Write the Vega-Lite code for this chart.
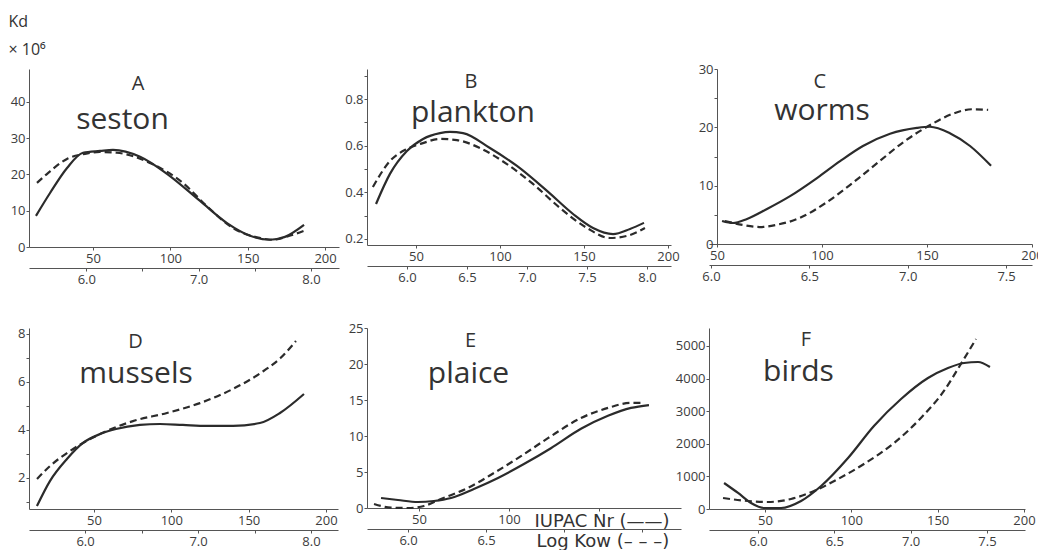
{
"$schema":"https://vega.github.io/schema/vega-lite/v6.json",
"background":"white",
"padding":{"left":8,"top":13,"right":4,"bottom":0},
"config":{
 "view":{"stroke":null},
 "axis":{"grid":false,"domainColor":"#555","tickColor":"#555","tickSize":3,"labelColor":"#3c3c3c","labelFont":"Open Sans","labelFontSize":13,"labelFlush":false,"labelOverlap":false,"labelBound":false,"labelPadding":2},
 "axisY":{"labelPadding":1}
},
"data":{"values":[
{"panel":"A","curve":"IUPAC","x":13.1,"y":8.6},{"panel":"A","curve":"IUPAC","x":22.2,"y":14.9},{"panel":"A","curve":"IUPAC","x":33.2,"y":21.8},{"panel":"A","curve":"IUPAC","x":43.5,"y":26.0},{"panel":"A","curve":"IUPAC","x":54.5,"y":26.5},{"panel":"A","curve":"IUPAC","x":62.9,"y":26.8},{"panel":"A","curve":"IUPAC","x":80.4,"y":24.9},{"panel":"A","curve":"IUPAC","x":97.8,"y":20.2},{"panel":"A","curve":"IUPAC","x":119.2,"y":12.7},{"panel":"A","curve":"IUPAC","x":136.6,"y":6.6},{"panel":"A","curve":"IUPAC","x":151.5,"y":3.1},{"panel":"A","curve":"IUPAC","x":164.4,"y":2.0},{"panel":"A","curve":"IUPAC","x":174.1,"y":2.8},{"panel":"A","curve":"IUPAC","x":186.4,"y":6.1},
{"panel":"A","curve":"LogKow","x":5.561,"y":17.7},{"panel":"A","curve":"LogKow","x":5.659,"y":20.4},{"panel":"A","curve":"LogKow","x":5.828,"y":24.3},{"panel":"A","curve":"LogKow","x":5.988,"y":25.7},{"panel":"A","curve":"LogKow","x":6.121,"y":26.2},{"panel":"A","curve":"LogKow","x":6.272,"y":26.0},{"panel":"A","curve":"LogKow","x":6.566,"y":23.2},{"panel":"A","curve":"LogKow","x":6.859,"y":17.7},{"panel":"A","curve":"LogKow","x":7.072,"y":11.3},{"panel":"A","curve":"LogKow","x":7.303,"y":5.3},{"panel":"A","curve":"LogKow","x":7.543,"y":2.5},{"panel":"A","curve":"LogKow","x":7.659,"y":2.0},{"panel":"A","curve":"LogKow","x":7.81,"y":3.1},{"panel":"A","curve":"LogKow","x":7.934,"y":4.4},
{"panel":"B","curve":"IUPAC","x":26.2,"y":0.350},{"panel":"B","curve":"IUPAC","x":34.5,"y":0.479},{"panel":"B","curve":"IUPAC","x":44.6,"y":0.577},{"panel":"B","curve":"IUPAC","x":54.2,"y":0.629},{"panel":"B","curve":"IUPAC","x":64.3,"y":0.654},{"panel":"B","curve":"IUPAC","x":70.2,"y":0.659},{"panel":"B","curve":"IUPAC","x":78.0,"y":0.654},{"panel":"B","curve":"IUPAC","x":94.0,"y":0.590},{"panel":"B","curve":"IUPAC","x":110.1,"y":0.513},{"panel":"B","curve":"IUPAC","x":128.0,"y":0.406},{"panel":"B","curve":"IUPAC","x":143.5,"y":0.307},{"panel":"B","curve":"IUPAC","x":155.4,"y":0.247},{"panel":"B","curve":"IUPAC","x":167.3,"y":0.221},{"panel":"B","curve":"IUPAC","x":177.4,"y":0.243},{"panel":"B","curve":"IUPAC","x":185.7,"y":0.269},
{"panel":"B","curve":"LogKow","x":5.716,"y":0.423},{"panel":"B","curve":"LogKow","x":5.858,"y":0.534},{"panel":"B","curve":"LogKow","x":6.0,"y":0.586},{"panel":"B","curve":"LogKow","x":6.133,"y":0.611},{"panel":"B","curve":"LogKow","x":6.275,"y":0.629},{"panel":"B","curve":"LogKow","x":6.416,"y":0.624},{"panel":"B","curve":"LogKow","x":6.608,"y":0.590},{"panel":"B","curve":"LogKow","x":6.833,"y":0.521},{"panel":"B","curve":"LogKow","x":7.05,"y":0.436},{"panel":"B","curve":"LogKow","x":7.275,"y":0.333},{"panel":"B","curve":"LogKow","x":7.5,"y":0.247},{"panel":"B","curve":"LogKow","x":7.691,"y":0.204},{"panel":"B","curve":"LogKow","x":7.833,"y":0.213},{"panel":"B","curve":"LogKow","x":7.983,"y":0.247},
{"panel":"C","curve":"IUPAC","x":52.4,"y":3.94},{"panel":"C","curve":"IUPAC","x":57.6,"y":3.6},{"panel":"C","curve":"IUPAC","x":64.3,"y":4.3},{"panel":"C","curve":"IUPAC","x":73.8,"y":6.0},{"panel":"C","curve":"IUPAC","x":84.8,"y":8.2},{"panel":"C","curve":"IUPAC","x":97.6,"y":11.3},{"panel":"C","curve":"IUPAC","x":108.6,"y":14.2},{"panel":"C","curve":"IUPAC","x":119.5,"y":16.8},{"panel":"C","curve":"IUPAC","x":132.4,"y":18.9},{"panel":"C","curve":"IUPAC","x":145.2,"y":19.9},{"panel":"C","curve":"IUPAC","x":151.4,"y":20.1},{"panel":"C","curve":"IUPAC","x":160.9,"y":19.0},{"panel":"C","curve":"IUPAC","x":170.5,"y":16.8},{"panel":"C","curve":"IUPAC","x":180.5,"y":13.4},
{"panel":"C","curve":"LogKow","x":6.071,"y":3.94},{"panel":"C","curve":"LogKow","x":6.162,"y":3.26},{"panel":"C","curve":"LogKow","x":6.248,"y":2.91},{"panel":"C","curve":"LogKow","x":6.329,"y":3.26},{"panel":"C","curve":"LogKow","x":6.451,"y":4.46},{"panel":"C","curve":"LogKow","x":6.583,"y":7.03},{"panel":"C","curve":"LogKow","x":6.72,"y":10.46},{"panel":"C","curve":"LogKow","x":6.857,"y":14.2},{"panel":"C","curve":"LogKow","x":6.988,"y":17.7},{"panel":"C","curve":"LogKow","x":7.125,"y":20.6},{"panel":"C","curve":"LogKow","x":7.227,"y":22.3},{"panel":"C","curve":"LogKow","x":7.328,"y":23.1},{"panel":"C","curve":"LogKow","x":7.409,"y":23.0},
{"panel":"D","curve":"IUPAC","x":13.1,"y":0.83},{"panel":"D","curve":"IUPAC","x":21.5,"y":1.87},{"panel":"D","curve":"IUPAC","x":32.5,"y":2.79},{"panel":"D","curve":"IUPAC","x":42.9,"y":3.46},{"panel":"D","curve":"IUPAC","x":53.9,"y":3.83},{"panel":"D","curve":"IUPAC","x":64.2,"y":4.04},{"panel":"D","curve":"IUPAC","x":79.7,"y":4.21},{"panel":"D","curve":"IUPAC","x":92.7,"y":4.25},{"panel":"D","curve":"IUPAC","x":107.5,"y":4.21},{"panel":"D","curve":"IUPAC","x":123.1,"y":4.17},{"panel":"D","curve":"IUPAC","x":139.9,"y":4.17},{"panel":"D","curve":"IUPAC","x":157.3,"y":4.29},{"panel":"D","curve":"IUPAC","x":170.3,"y":4.71},{"panel":"D","curve":"IUPAC","x":185.8,"y":5.50},
{"panel":"D","curve":"LogKow","x":5.575,"y":1.96},{"panel":"D","curve":"LogKow","x":5.69,"y":2.50},{"panel":"D","curve":"LogKow","x":5.84,"y":3.04},{"panel":"D","curve":"LogKow","x":5.982,"y":3.46},{"panel":"D","curve":"LogKow","x":6.132,"y":3.83},{"panel":"D","curve":"LogKow","x":6.424,"y":4.37},{"panel":"D","curve":"LogKow","x":6.725,"y":4.71},{"panel":"D","curve":"LogKow","x":7.017,"y":5.12},{"panel":"D","curve":"LogKow","x":7.309,"y":5.71},{"panel":"D","curve":"LogKow","x":7.553,"y":6.37},{"panel":"D","curve":"LogKow","x":7.73,"y":7.0},{"panel":"D","curve":"LogKow","x":7.867,"y":7.71},
{"panel":"E","curve":"IUPAC","x":28.9,"y":1.39},{"panel":"E","curve":"IUPAC","x":38.3,"y":1.11},{"panel":"E","curve":"IUPAC","x":49.4,"y":0.83},{"panel":"E","curve":"IUPAC","x":58.3,"y":0.97},{"panel":"E","curve":"IUPAC","x":67.8,"y":1.39},{"panel":"E","curve":"IUPAC","x":80.5,"y":2.64},{"panel":"E","curve":"IUPAC","x":93.9,"y":4.17},{"panel":"E","curve":"IUPAC","x":108.3,"y":6.1},{"panel":"E","curve":"IUPAC","x":123.3,"y":8.3},{"panel":"E","curve":"IUPAC","x":140.0,"y":11.0},{"panel":"E","curve":"IUPAC","x":155.0,"y":12.8},{"panel":"E","curve":"IUPAC","x":167.8,"y":13.9},{"panel":"E","curve":"IUPAC","x":177.8,"y":14.3},
{"panel":"E","curve":"LogKow","x":5.782,"y":0.56},{"panel":"E","curve":"LogKow","x":5.891,"y":0.05},{"panel":"E","curve":"LogKow","x":6.0,"y":0.0},{"panel":"E","curve":"LogKow","x":6.102,"y":0.28},{"panel":"E","curve":"LogKow","x":6.211,"y":1.25},{"panel":"E","curve":"LogKow","x":6.384,"y":2.78},{"panel":"E","curve":"LogKow","x":6.551,"y":4.86},{"panel":"E","curve":"LogKow","x":6.724,"y":7.2},{"panel":"E","curve":"LogKow","x":6.897,"y":9.7},{"panel":"E","curve":"LogKow","x":7.109,"y":12.5},{"panel":"E","curve":"LogKow","x":7.282,"y":13.9},{"panel":"E","curve":"LogKow","x":7.429,"y":14.6},{"panel":"E","curve":"LogKow","x":7.506,"y":14.6},
{"panel":"F","curve":"IUPAC","x":26.3,"y":797},{"panel":"F","curve":"IUPAC","x":34.4,"y":491},{"panel":"F","curve":"IUPAC","x":41.9,"y":184},{"panel":"F","curve":"IUPAC","x":49.4,"y":31},{"panel":"F","curve":"IUPAC","x":59.3,"y":31},{"panel":"F","curve":"IUPAC","x":70.9,"y":245},{"panel":"F","curve":"IUPAC","x":82.5,"y":705},{"panel":"F","curve":"IUPAC","x":98.1,"y":1564},{"panel":"F","curve":"IUPAC","x":113.1,"y":2545},{"panel":"F","curve":"IUPAC","x":128.8,"y":3373},{"panel":"F","curve":"IUPAC","x":144.4,"y":4017},{"panel":"F","curve":"IUPAC","x":156.0,"y":4324},{"panel":"F","curve":"IUPAC","x":165.3,"y":4477},{"panel":"F","curve":"IUPAC","x":173.4,"y":4508},{"panel":"F","curve":"IUPAC","x":180.3,"y":4354},
{"panel":"F","curve":"LogKow","x":5.771,"y":337},{"panel":"F","curve":"LogKow","x":5.934,"y":245},{"panel":"F","curve":"LogKow","x":6.065,"y":215},{"panel":"F","curve":"LogKow","x":6.216,"y":307},{"panel":"F","curve":"LogKow","x":6.367,"y":552},{"panel":"F","curve":"LogKow","x":6.524,"y":920},{"panel":"F","curve":"LogKow","x":6.694,"y":1380},{"panel":"F","curve":"LogKow","x":6.891,"y":2024},{"panel":"F","curve":"LogKow","x":7.067,"y":2791},{"panel":"F","curve":"LogKow","x":7.218,"y":3619},{"panel":"F","curve":"LogKow","x":7.329,"y":4446},{"panel":"F","curve":"LogKow","x":7.428,"y":5213}
]},
"columns":3,
"align":"none",
"bounds":"flush",
"spacing":{"row":81,"column":28},
"concat":[
 {"width":310,"height":178,"resolve":{"scale":{"x":"independent"},"axis":{"x":"independent","y":"independent"}},"layer":[
  {"transform":[{"filter":"datum.panel==='A' && datum.curve==='IUPAC'"}],"mark":{"type":"line","interpolate":"monotone","color":"#2b2b2b","strokeWidth":2.2},
   "encoding":{"x":{"field":"x","type":"quantitative","title":null,"scale":{"domain":[8.6,209],"nice":false,"zero":false},"axis":{"orient":"bottom","values":[50,100,150,200],"format":"d"}},
    "y":{"field":"y","type":"quantitative","scale":{"domain":[0,49.1],"nice":false,"zero":false},"axis":{"values":[0,10,20,30,40],"format":"d","title":["Kd","× 10⁶"],"titleAngle":0,"titleAlign":"left","titleBaseline":"alphabetic","titleX":-21,"titleY":-43,"titleFont":"Open Sans","titleFontSize":16,"titleFontWeight":"normal","titleColor":"#333","titleLineHeight":28}}}},
  {"transform":[{"filter":"datum.panel==='A' && datum.curve==='LogKow'"}],"mark":{"type":"line","interpolate":"monotone","color":"#2b2b2b","strokeWidth":2.2,"strokeDash":[7,4]},
   "encoding":{"x":{"field":"x","type":"quantitative","title":null,"scale":{"domain":[5.49,8.25],"nice":false,"zero":false},"axis":{"orient":"bottom","offset":21,"values":[6,6.5,7,7.5,8],"labelExpr":"abs(datum.value - round(datum.value)) < 0.01 ? format(datum.value, '.1f') : ''"}},
    "y":{"field":"y","type":"quantitative","scale":{"domain":[0,49.1],"nice":false,"zero":false},"axis":null}}},
  {"data":{"values":[{"t":"A"}]},"mark":{"type":"text","font":"Open Sans","fontSize":20,"color":"#333","align":"center","baseline":"alphabetic"},
   "encoding":{"x":{"datum":79.1,"type":"quantitative","scale":{"domain":[8.6,209],"nice":false,"zero":false},"axis":null},"y":{"datum":43.3,"type":"quantitative","scale":{"domain":[0,49.1],"nice":false,"zero":false},"axis":null},"text":{"field":"t"}}},
  {"data":{"values":[{"t":"seston"}]},"mark":{"type":"text","font":"Open Sans","fontSize":30,"color":"#333","align":"center","baseline":"alphabetic"},
   "encoding":{"x":{"datum":69.05,"type":"quantitative","scale":{"domain":[8.6,209],"nice":false,"zero":false},"axis":null},"y":{"datum":32.6,"type":"quantitative","scale":{"domain":[0,49.1],"nice":false,"zero":false},"axis":null},"text":{"field":"t"}}}
 ]},
 {"width":304,"height":176,"resolve":{"scale":{"x":"independent"},"axis":{"x":"independent","y":"independent"}},"layer":[
  {"transform":[{"filter":"datum.panel==='B' && datum.curve==='IUPAC'"}],"mark":{"type":"line","interpolate":"monotone","color":"#2b2b2b","strokeWidth":2.2},
   "encoding":{"x":{"field":"x","type":"quantitative","title":null,"scale":{"domain":[20.83,201.8],"nice":false,"zero":false},"axis":{"orient":"bottom","values":[50,100,150,200],"format":"d"}},
    "y":{"field":"y","type":"quantitative","title":null,"scale":{"domain":[0.174,0.929],"nice":false,"zero":false},"axis":{"values":[0.2,0.3,0.4,0.5,0.6,0.7,0.8,0.9],"labelExpr":"round(datum.value*10) % 2 == 0 ? format(datum.value, '.1f') : ''"}}}},
  {"transform":[{"filter":"datum.panel==='B' && datum.curve==='LogKow'"}],"mark":{"type":"line","interpolate":"monotone","color":"#2b2b2b","strokeWidth":2.2,"strokeDash":[7,4]},
   "encoding":{"x":{"field":"x","type":"quantitative","title":null,"scale":{"domain":[5.667,8.2],"nice":false,"zero":false},"axis":{"orient":"bottom","offset":21,"values":[6,6.5,7,7.5,8],"format":".1f"}},
    "y":{"field":"y","type":"quantitative","scale":{"domain":[0.174,0.929],"nice":false,"zero":false},"axis":null}}},
  {"data":{"values":[{"t":"B"}]},"mark":{"type":"text","font":"Open Sans","fontSize":20,"color":"#333","align":"center","baseline":"alphabetic"},
   "encoding":{"x":{"datum":82.7,"type":"quantitative","scale":{"domain":[20.83,201.8],"nice":false,"zero":false},"axis":null},"y":{"datum":0.848,"type":"quantitative","scale":{"domain":[0.174,0.929],"nice":false,"zero":false},"axis":null},"text":{"field":"t"}}},
  {"data":{"values":[{"t":"plankton"}]},"mark":{"type":"text","font":"Open Sans","fontSize":30,"color":"#333","align":"center","baseline":"alphabetic"},
   "encoding":{"x":{"datum":83.9,"type":"quantitative","scale":{"domain":[20.83,201.8],"nice":false,"zero":false},"axis":null},"y":{"datum":0.702,"type":"quantitative","scale":{"domain":[0.174,0.929],"nice":false,"zero":false},"axis":null},"text":{"field":"t"}}}
 ]},
 {"width":323,"height":175,"resolve":{"scale":{"x":"independent"},"axis":{"x":"independent","y":"independent"}},"layer":[
  {"transform":[{"filter":"datum.panel==='C' && datum.curve==='IUPAC'"}],"mark":{"type":"line","interpolate":"monotone","color":"#2b2b2b","strokeWidth":2.2},
   "encoding":{"x":{"field":"x","type":"quantitative","title":null,"scale":{"domain":[46.19,200],"nice":false,"zero":false},"axis":{"orient":"bottom","values":[50,100,150,200],"format":"d"}},
    "y":{"field":"y","type":"quantitative","title":null,"scale":{"domain":[0,30],"nice":false,"zero":false},"axis":{"offset":-8,"values":[0,5,10,15,20,25,30],"format":"d","labelExpr":"datum.value % 10 == 0 ? datum.label : ''"}}}},
  {"transform":[{"filter":"datum.panel==='C' && datum.curve==='LogKow'"}],"mark":{"type":"line","interpolate":"monotone","color":"#2b2b2b","strokeWidth":2.2,"strokeDash":[7,4]},
   "encoding":{"x":{"field":"x","type":"quantitative","title":null,"scale":{"domain":[5.99,7.632],"nice":false,"zero":false},"axis":{"orient":"bottom","offset":21,"values":[6,6.5,7,7.5],"format":".1f"}},
    "y":{"field":"y","type":"quantitative","scale":{"domain":[0,30],"nice":false,"zero":false},"axis":null}}},
  {"data":{"values":[{"t":"C"}]},"mark":{"type":"text","font":"Open Sans","fontSize":20,"color":"#333","align":"center","baseline":"alphabetic"},
   "encoding":{"x":{"datum":99.0,"type":"quantitative","scale":{"domain":[46.19,200],"nice":false,"zero":false},"axis":null},"y":{"datum":26.8,"type":"quantitative","scale":{"domain":[0,30],"nice":false,"zero":false},"axis":null},"text":{"field":"t"}}},
  {"data":{"values":[{"t":"worms"}]},"mark":{"type":"text","font":"Open Sans","fontSize":30,"color":"#333","align":"center","baseline":"alphabetic"},
   "encoding":{"x":{"datum":100,"type":"quantitative","scale":{"domain":[46.19,200],"nice":false,"zero":false},"axis":null},"y":{"datum":21.2,"type":"quantitative","scale":{"domain":[0,30],"nice":false,"zero":false},"axis":null},"text":{"field":"t"}}}
 ]},
 {"width":309,"height":181,"resolve":{"scale":{"x":"independent"},"axis":{"x":"independent","y":"independent"}},"layer":[
  {"transform":[{"filter":"datum.panel==='D' && datum.curve==='IUPAC'"}],"mark":{"type":"line","interpolate":"monotone","color":"#2b2b2b","strokeWidth":2.2},
   "encoding":{"x":{"field":"x","type":"quantitative","title":null,"scale":{"domain":[7.97,207.8],"nice":false,"zero":false},"axis":{"orient":"bottom","values":[50,100,150,200],"format":"d"}},
    "y":{"field":"y","type":"quantitative","title":null,"scale":{"domain":[0.708,8.25],"nice":false,"zero":false},"axis":{"values":[1,2,3,4,5,6,7,8],"format":"d","labelExpr":"datum.value % 2 == 0 ? datum.label : ''"}}}},
  {"transform":[{"filter":"datum.panel==='D' && datum.curve==='LogKow'"}],"mark":{"type":"line","interpolate":"monotone","color":"#2b2b2b","strokeWidth":2.2,"strokeDash":[7,4]},
   "encoding":{"x":{"field":"x","type":"quantitative","title":null,"scale":{"domain":[5.504,8.239],"nice":false,"zero":false},"axis":{"orient":"bottom","offset":21,"values":[6,6.5,7,7.5,8],"labelExpr":"abs(datum.value - round(datum.value)) < 0.01 ? format(datum.value, '.1f') : ''"}},
    "y":{"field":"y","type":"quantitative","scale":{"domain":[0.708,8.25],"nice":false,"zero":false},"axis":null}}},
  {"data":{"values":[{"t":"D"}]},"mark":{"type":"text","font":"Open Sans","fontSize":20,"color":"#333","align":"center","baseline":"alphabetic"},
   "encoding":{"x":{"datum":76.8,"type":"quantitative","scale":{"domain":[7.97,207.8],"nice":false,"zero":false},"axis":null},"y":{"datum":7.43,"type":"quantitative","scale":{"domain":[0.708,8.25],"nice":false,"zero":false},"axis":null},"text":{"field":"t"}}},
  {"data":{"values":[{"t":"mussels"}]},"mark":{"type":"text","font":"Open Sans","fontSize":30,"color":"#333","align":"center","baseline":"alphabetic"},
   "encoding":{"x":{"datum":77.2,"type":"quantitative","scale":{"domain":[7.97,207.8],"nice":false,"zero":false},"axis":null},"y":{"datum":5.97,"type":"quantitative","scale":{"domain":[0.708,8.25],"nice":false,"zero":false},"axis":null},"text":{"field":"t"}}}
 ]},
 {"width":314,"height":180,"resolve":{"scale":{"x":"independent"},"axis":{"x":"independent","y":"independent"}},"layer":[
  {"transform":[{"filter":"datum.panel==='E' && datum.curve==='IUPAC'"}],"mark":{"type":"line","interpolate":"monotone","color":"#2b2b2b","strokeWidth":2.2},
   "encoding":{"x":{"field":"x","type":"quantitative","scale":{"domain":[21.1,195.6],"nice":false,"zero":false},"axis":{"orient":"bottom","values":[50,100,150],"format":"d","labelExpr":"datum.value <= 100 ? datum.label : ''","title":"IUPAC Nr (——)","titleX":167,"titleY":18,"titleAlign":"left","titleBaseline":"alphabetic","titleFont":"DejaVu Sans","titleFontSize":18,"titleFontWeight":"normal","titleColor":"#333"}},
    "y":{"field":"y","type":"quantitative","title":null,"scale":{"domain":[0,25],"nice":false,"zero":false},"axis":{"values":[0,5,10,15,20,25],"format":"d"}}}},
  {"transform":[{"filter":"datum.panel==='E' && datum.curve==='LogKow'"}],"mark":{"type":"line","interpolate":"monotone","color":"#2b2b2b","strokeWidth":2.2,"strokeDash":[7,4]},
   "encoding":{"x":{"field":"x","type":"quantitative","scale":{"domain":[5.737,7.75],"nice":false,"zero":false},"axis":{"orient":"bottom","offset":21,"values":[6,6.5,7,7.5],"labelExpr":"datum.value < 6.7 ? format(datum.value, '.1f') : ''","title":"Log Kow (– – –)","titleX":169,"titleY":17,"titleAlign":"left","titleBaseline":"alphabetic","titleFont":"DejaVu Sans","titleFontSize":18,"titleFontWeight":"normal","titleColor":"#333"}},
    "y":{"field":"y","type":"quantitative","scale":{"domain":[0,25],"nice":false,"zero":false},"axis":null}}},
  {"data":{"values":[{"t":"E"}]},"mark":{"type":"text","font":"Open Sans","fontSize":20,"color":"#333","align":"center","baseline":"alphabetic"},
   "encoding":{"x":{"datum":78.6,"type":"quantitative","scale":{"domain":[21.1,195.6],"nice":false,"zero":false},"axis":null},"y":{"datum":22.3,"type":"quantitative","scale":{"domain":[0,25],"nice":false,"zero":false},"axis":null},"text":{"field":"t"}}},
  {"data":{"values":[{"t":"plaice"}]},"mark":{"type":"text","font":"Open Sans","fontSize":30,"color":"#333","align":"center","baseline":"alphabetic"},
   "encoding":{"x":{"datum":77.5,"type":"quantitative","scale":{"domain":[21.1,195.6],"nice":false,"zero":false},"axis":null},"y":{"datum":17.4,"type":"quantitative","scale":{"domain":[0,25],"nice":false,"zero":false},"axis":null},"text":{"field":"t"}}}
 ]},
 {"width":316,"height":181,"resolve":{"scale":{"x":"independent"},"axis":{"x":"independent","y":"independent"}},"layer":[
  {"transform":[{"filter":"datum.panel==='F' && datum.curve==='IUPAC'"}],"mark":{"type":"line","interpolate":"monotone","color":"#2b2b2b","strokeWidth":2.2},
   "encoding":{"x":{"field":"x","type":"quantitative","title":null,"scale":{"domain":[17.57,200.6],"nice":false,"zero":false},"axis":{"orient":"bottom","values":[50,100,150,200],"format":"d"}},
    "y":{"field":"y","type":"quantitative","title":null,"scale":{"domain":[0,5550],"nice":false,"zero":false},"axis":{"values":[0,1000,2000,3000,4000,5000],"format":"d"}}}},
  {"transform":[{"filter":"datum.panel==='F' && datum.curve==='LogKow'"}],"mark":{"type":"line","interpolate":"monotone","color":"#2b2b2b","strokeWidth":2.2,"strokeDash":[7,4]},
   "encoding":{"x":{"field":"x","type":"quantitative","title":null,"scale":{"domain":[5.679,7.749],"nice":false,"zero":false},"axis":{"orient":"bottom","offset":21,"values":[6,6.5,7,7.5],"format":".1f"}},
    "y":{"field":"y","type":"quantitative","scale":{"domain":[0,5550],"nice":false,"zero":false},"axis":null}}},
  {"data":{"values":[{"t":"F"}]},"mark":{"type":"text","font":"Open Sans","fontSize":20,"color":"#333","align":"center","baseline":"alphabetic"},
   "encoding":{"x":{"datum":73.7,"type":"quantitative","scale":{"domain":[17.57,200.6],"nice":false,"zero":false},"axis":null},"y":{"datum":4998,"type":"quantitative","scale":{"domain":[0,5550],"nice":false,"zero":false},"axis":null},"text":{"field":"t"}}},
  {"data":{"values":[{"t":"birds"}]},"mark":{"type":"text","font":"Open Sans","fontSize":30,"color":"#333","align":"center","baseline":"alphabetic"},
   "encoding":{"x":{"datum":69.4,"type":"quantitative","scale":{"domain":[17.57,200.6],"nice":false,"zero":false},"axis":null},"y":{"datum":3925,"type":"quantitative","scale":{"domain":[0,5550],"nice":false,"zero":false},"axis":null},"text":{"field":"t"}}}
 ]}
]
}
